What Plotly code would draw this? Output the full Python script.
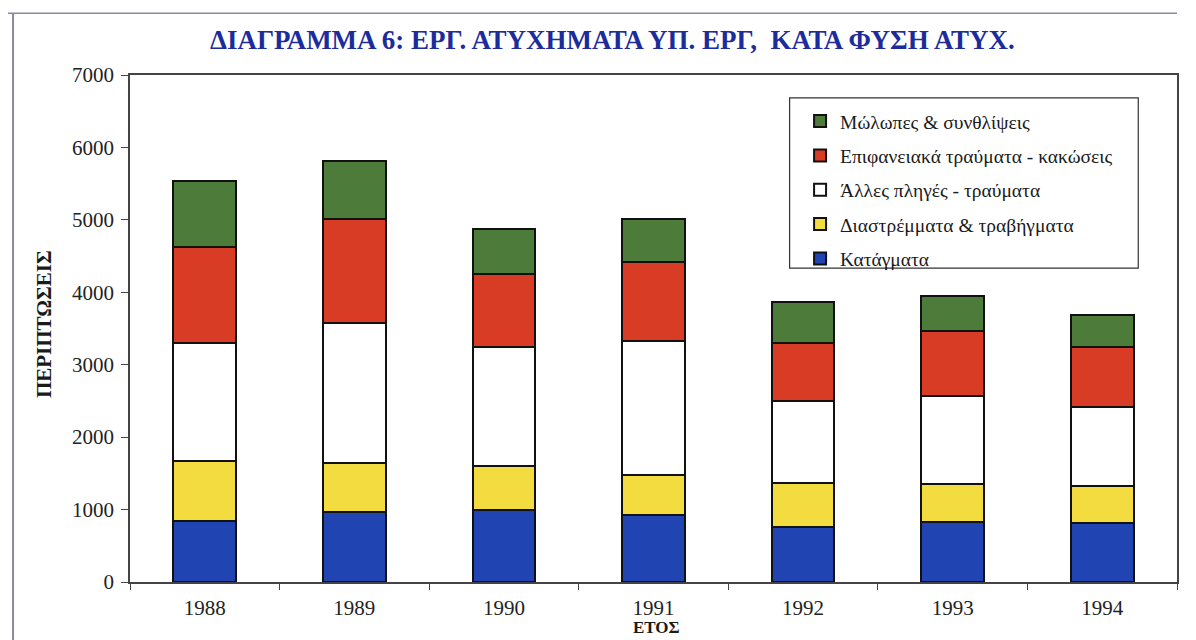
import plotly.graph_objects as go

years = ["1988", "1989", "1990", "1991", "1992", "1993", "1994"]
katagmata = [842, 971, 994, 925, 764, 833, 819]
diastremmata = [829, 676, 608, 552, 598, 520, 506]
alles = [1633, 1933, 1647, 1855, 1137, 1219, 1095]
epifaneiaka = [1317, 1428, 1003, 1082, 805, 898, 829]
molopes = [920, 809, 617, 594, 557, 479, 437]

series = [
    ("Κατάγματα", katagmata, "#2045b2"),
    ("Διαστρέμματα & τραβήγματα", diastremmata, "#f2dc40"),
    ("Άλλες πληγές - τραύματα", alles, "#ffffff"),
    ("Επιφανειακά τραύματα - κακώσεις", epifaneiaka, "#d83c24"),
    ("Μώλωπες & συνθλίψεις", molopes, "#4c7b3a"),
]

SERIF = "Liberation Serif, Times New Roman, serif"

fig = go.Figure()
n = len(series)
for i, (name, vals, col) in enumerate(series):
    fig.add_trace(go.Bar(
        x=years, y=vals, name=name, legendgroup=f"g{i}", legendrank=n - i,
        marker=dict(color=col, line=dict(color="#111111", width=2)),
    ))

# the page body has an 8px margin, so the figure is sized to compensate
fig.update_layout(
    barmode="stack",
    bargap=0.58,
    width=1188, height=632,
    margin=dict(l=122, r=19, t=67, b=58),
    paper_bgcolor="#ffffff",
    plot_bgcolor="#ffffff",
    font=dict(family=SERIF, size=21, color="#222222"),
    showlegend=True,
    legend=dict(
        x=0.64, y=0.947, xanchor="left", yanchor="top",
        traceorder="grouped", tracegroupgap=6,
        bgcolor="rgba(0,0,0,0)", borderwidth=0,
        font=dict(family=SERIF, size=19.5, color="#1a1a1a"),
    ),
    xaxis=dict(
        showgrid=False, showline=True, linecolor="#444444", linewidth=1.5,
        mirror=True, ticks="outside", ticklen=6, tickcolor="#444444",
        tickson="boundaries", ticklabelstandoff=6,
        tickfont=dict(family=SERIF, size=21, color="#222222"),
    ),
    yaxis=dict(
        range=[0, 7000], dtick=1000, showgrid=False, zeroline=False,
        showline=True, linecolor="#444444", linewidth=1.5, mirror=True,
        ticks="outside", ticklen=7, tickcolor="#444444",
        ticklabelstandoff=3,
        tickfont=dict(family=SERIF, size=21, color="#222222"),
    ),
    yaxis2=dict(
        range=[0, 7000], dtick=1000, overlaying="y", side="left",
        showgrid=False, zeroline=False, showline=False,
        ticks="inside", ticklen=7, tickcolor="#444444",
        showticklabels=False,
    ),
    annotations=[
        dict(text="<b>ΔΙΑΓΡΑΜΜΑ 6: ΕΡΓ. ΑΤΥΧΗΜΑΤΑ ΥΠ. ΕΡΓ,  ΚΑΤΑ ΦΥΣΗ ΑΤΥΧ.</b>",
             xref="paper", yref="paper", x=0.461, y=1.069,
             xanchor="center", yanchor="middle", showarrow=False,
             font=dict(family=SERIF, size=27, color="#1c2c9c")),
        dict(text="<b>ΠΕΡΙΠΤΩΣΕΙΣ</b>", textangle=-90,
             xref="paper", yref="paper", x=-0.082, y=0.509,
             xanchor="center", yanchor="middle", showarrow=False,
             font=dict(family=SERIF, size=21, color="#1a1a1a")),
        dict(text="<b>ΕΤΟΣ</b>",
             xref="paper", yref="paper", x=0.503, y=-0.0907,
             xanchor="center", yanchor="middle", showarrow=False,
             font=dict(family=SERIF, size=17, color="#1a1a1a")),
    ],
    shapes=[
        dict(type="rect", xref="paper", yref="paper",
             x0=0.630, x1=0.963, y0=0.619, y1=0.955,
             fillcolor="#ffffff", line=dict(color="#333333", width=1.2),
             layer="below"),
        dict(type="line", xref="paper", yref="paper",
             x0=-0.1117, x1=-0.1117, y0=1.122, y1=-0.14,
             line=dict(color="#8a8a9a", width=2)),
        dict(type="line", xref="paper", yref="paper",
             x0=-0.118, x1=1.0, y0=1.122, y1=1.122,
             line=dict(color="#8a8a9a", width=1.5)),
    ],
)

fig.write_html("out.html")
